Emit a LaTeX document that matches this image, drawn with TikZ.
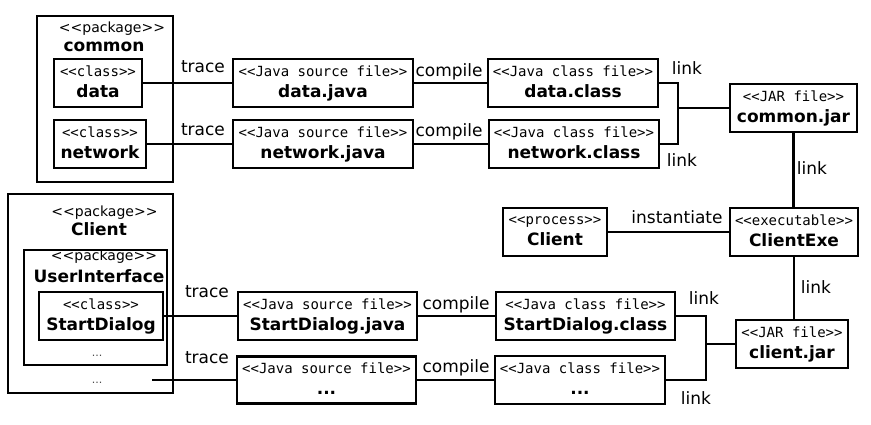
\documentclass[tikz,border=0pt]{standalone}
\usepackage{fontspec}
\setmainfont{DejaVu Sans}
\setmonofont{DejaVu Sans Mono}
\newcommand\stt[1]{{\ttfamily\fontsize{14}{21}\selectfont\vphantom{Jj}#1}}
\newcommand\nm[1]{{\bfseries\fontsize{17}{21}\selectfont\vphantom{Jj}#1}}
\tikzset{
  box/.style={draw, line width=2.2pt, align=center, inner sep=0pt, font=\fontsize{17}{21}\selectfont},
  pkg/.style={draw, line width=2.2pt, inner sep=0pt},
  lbl/.style={anchor=base, inner sep=0pt, font=\fontsize{17}{20}\selectfont},
  pkgtxt/.style={anchor=base, inner sep=0pt, font=\fontsize{14}{16}\selectfont},
  pkgname/.style={anchor=base, inner sep=0pt, font=\bfseries\fontsize{17}{20}\selectfont},
  pkgdots/.style={anchor=base, inner sep=0pt, font=\fontsize{11}{12}\selectfont, text=black!70},
  conn/.style={line width=2.2pt},
}
\begin{document}
\begin{tikzpicture}[x=1pt,y=-1pt]
\useasboundingbox (0,0) rectangle (871,425);
% ---------- package common
\node[pkg, minimum width=136pt, minimum height=166pt] (common) at (105,99) {};
\node[pkgtxt] (commonst) at (112,33) {<{}<package>{}>};
\node[pkgname] (commonnm) at (104,52) {common};
\node[box, minimum width=88pt, minimum height=48pt] (data) at (98,83) {\stt{<{}<class>{}>}\\\nm{data}};
\node[box, minimum width=92pt, minimum height=48pt] (network) at (100,144) {\stt{<{}<class>{}>}\\\nm{network}};
% ---------- package Client
\node[pkg, minimum width=165pt, minimum height=199pt] (client) at (90.5,293.5) {};
\node[pkgtxt] (clientst) at (104.5,217) {<{}<package>{}>};
\node[pkgname] (clientnm) at (99,236) {Client};
\node[pkg, minimum width=143pt, minimum height=115pt] (ui) at (95.5,307.5) {};
\node[pkgtxt] (uist) at (104,261) {<{}<package>{}>};
\node[pkgname] (uinm) at (99,282) {UserInterface};
\node[box, minimum width=124pt, minimum height=48pt] (sd) at (101,316) {\stt{<{}<class>{}>}\\\nm{StartDialog}};
\node[pkgdots] (uidots) at (97,356) {...};
\node[pkgdots] (clientdots) at (97,383) {...};
\coordinate (dotsend) at (152,380);
% ---------- source files
\node[box, minimum width=180pt, minimum height=48pt] (datajava) at (323,83) {\stt{<{}<Java source file>{}>}\\\nm{data.java}};
\node[box, minimum width=180pt, minimum height=48pt] (networkjava) at (323,144) {\stt{<{}<Java source file>{}>}\\\nm{network.java}};
\node[box, minimum width=179pt, minimum height=48pt] (sdjava) at (327.5,316) {\stt{<{}<Java source file>{}>}\\\nm{StartDialog.java}};
\node[box, minimum width=179pt, minimum height=47pt] (dotsjava) at (326.5,380) {\stt{<{}<Java source file>{}>}\\\nm{...}};
% ---------- class files
\node[box, minimum width=170pt, minimum height=48pt] (dataclass) at (573,83) {\stt{<{}<Java class file>{}>}\\\nm{data.class}};
\node[box, minimum width=170pt, minimum height=48pt] (networkclass) at (574,144) {\stt{<{}<Java class file>{}>}\\\nm{network.class}};
\node[box, minimum width=179pt, minimum height=48pt] (sdclass) at (585.5,316) {\stt{<{}<Java class file>{}>}\\\nm{StartDialog.class}};
\node[box, minimum width=170pt, minimum height=48pt] (dotsclass) at (580,380) {\stt{<{}<Java class file>{}>}\\\nm{...}};
% ---------- jars, executable, process
\node[box, minimum width=127pt, minimum height=48pt] (commonjar) at (793.5,108) {\stt{<{}<JAR file>{}>}\\\nm{common.jar}};
\node[box, minimum width=128pt, minimum height=48pt] (clientexe) at (794,232) {\stt{<{}<executable>{}>}\\\nm{ClientExe}};
\node[box, minimum width=104pt, minimum height=48pt] (process) at (555,232) {\stt{<{}<process>{}>}\\\nm{Client}};
\node[box, minimum width=112pt, minimum height=48pt] (clientjar) at (792,344) {\stt{<{}<JAR file>{}>}\\\nm{client.jar}};
% ---------- junctions
\coordinate (jA) at (678,108);
\coordinate (jB) at (706,344);
% ---------- connectors
\draw[conn] (data.east) -- (datajava.west);
\draw[conn] (network.east) -- (networkjava.west);
\draw[conn] (sd.east) -- (sdjava.west);
\draw[conn] (dotsend) -- (dotsjava.west |- dotsend);
\draw[conn] (datajava.east) -- (dataclass.west);
\draw[conn] (networkjava.east) -- (networkclass.west);
\draw[conn] (sdjava.east) -- (sdclass.west);
\draw[conn] (dotsjava.east) -- (dotsclass.west);
\draw[conn] (dataclass.east) -| (jA);
\draw[conn] (networkclass.east) -| (jA);
\draw[conn] (jA) -- (commonjar.west);
\draw[conn] (sdclass.east) -| (jB);
\draw[conn] (dotsclass.east) -| (jB);
\draw[conn] (jB) -- (clientjar.west);
\draw[conn] (commonjar.south) -- (commonjar.south |- clientexe.north);
\draw[conn] (clientexe.south) -- (clientexe.south |- clientjar.north);
\draw[conn] (process.east) -- (clientexe.west);
% ---------- labels
\node[lbl] (t1) at (203,73) {trace};
\node[lbl] (t2) at (203,136) {trace};
\node[lbl] (t3) at (207,298) {trace};
\node[lbl] (t4) at (207,363) {trace};
\node[lbl] (c1) at (449,77) {compile};
\node[lbl] (c2) at (449,137) {compile};
\node[lbl] (c3) at (456,309) {compile};
\node[lbl] (c4) at (456,372) {compile};
\node[lbl] (l1) at (687,75) {link};
\node[lbl] (l2) at (682,167) {link};
\node[lbl] (l3) at (812,175) {link};
\node[lbl] (l4) at (816,293) {link};
\node[lbl] (l5) at (704,304) {link};
\node[lbl] (l6) at (696,404) {link};
\node[lbl] (inst) at (677,223) {instantiate};
\end{tikzpicture}
\end{document}
